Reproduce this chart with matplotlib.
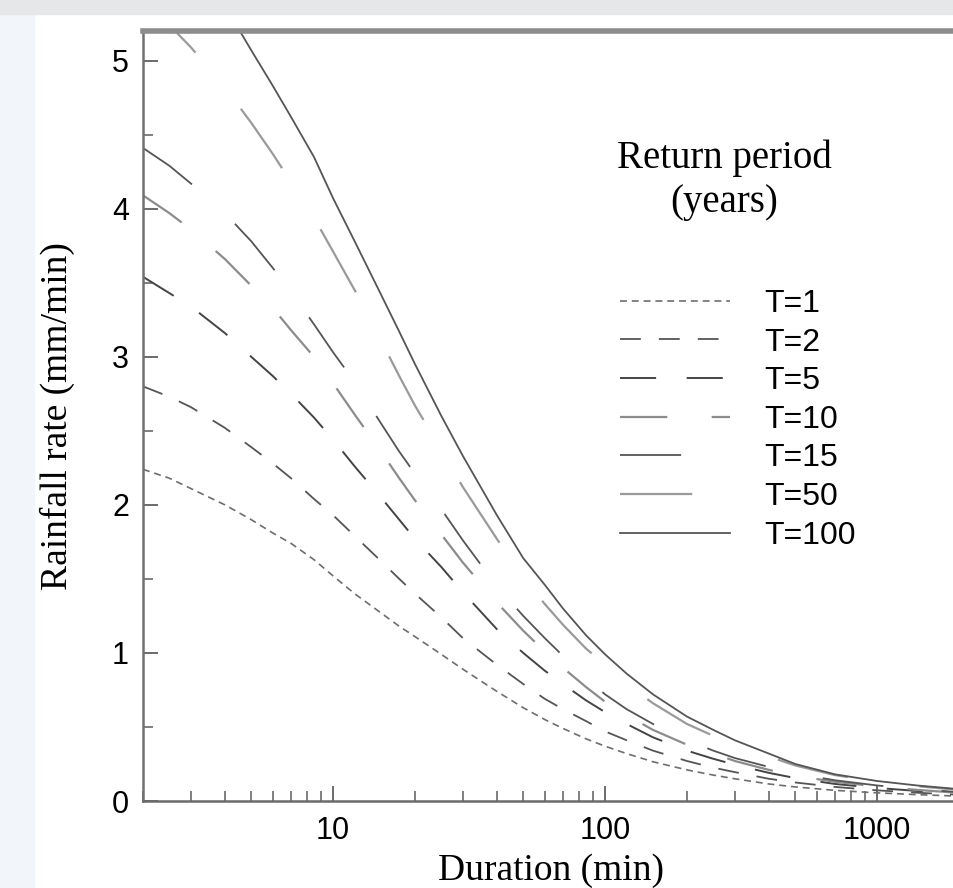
import numpy as np
import matplotlib
matplotlib.use("Agg")
import matplotlib.pyplot as plt
from matplotlib.patches import Rectangle
from matplotlib.ticker import LogLocator, MultipleLocator, NullFormatter

plt.rcParams["lines.scale_dashes"] = False
plt.rcParams["font.family"] = ["Liberation Sans", "DejaVu Sans"]

# ---------------------------------------------------------
# Data (rainfall rate in mm/min)
# ---------------------------------------------------------
duration = [2, 2.5, 3, 4, 5, 6, 7, 8.5, 10, 12, 15, 17.5, 20, 25, 30, 40, 50,
            60, 70, 85, 100, 120, 150, 200, 250, 300, 400, 500, 700, 1000, 1400, 2000]

rate_t1 = [2.24, 2.18, 2.11, 2.00, 1.90, 1.81, 1.74, 1.63, 1.52, 1.40, 1.27, 1.18, 1.11, 0.99, 0.89, 0.74,
           0.63, 0.55, 0.49, 0.42, 0.37, 0.32, 0.265, 0.21, 0.175, 0.15, 0.115, 0.095, 0.072, 0.055, 0.043, 0.033]
rate_t2 = [2.80, 2.73, 2.66, 2.52, 2.39, 2.28, 2.18, 2.04, 1.93, 1.79, 1.62, 1.50, 1.40, 1.24, 1.10, 0.92,
           0.79, 0.69, 0.62, 0.54, 0.47, 0.41, 0.34, 0.27, 0.225, 0.195, 0.15, 0.125, 0.095, 0.072, 0.056, 0.042]
rate_t5 = [3.54, 3.43, 3.34, 3.16, 3.00, 2.87, 2.75, 2.59, 2.44, 2.26, 2.05, 1.90, 1.77, 1.58, 1.41, 1.16,
           1.00, 0.88, 0.79, 0.68, 0.60, 0.52, 0.43, 0.34, 0.285, 0.245, 0.19, 0.155, 0.115, 0.088, 0.068, 0.05]
rate_t10 = [4.09, 3.97, 3.86, 3.66, 3.48, 3.33, 3.18, 3.00, 2.82, 2.61, 2.36, 2.18, 2.03, 1.80, 1.61, 1.34,
            1.15, 1.01, 0.90, 0.77, 0.67, 0.58, 0.48, 0.38, 0.32, 0.27, 0.21, 0.17, 0.13, 0.098, 0.075, 0.055]
rate_t15 = [4.41, 4.29, 4.17, 3.97, 3.78, 3.60, 3.44, 3.22, 3.03, 2.83, 2.55, 2.36, 2.21, 1.97, 1.76, 1.45,
            1.25, 1.10, 0.98, 0.83, 0.72, 0.62, 0.52, 0.41, 0.34, 0.29, 0.23, 0.185, 0.14, 0.105, 0.08, 0.06]
rate_t50 = [5.45, 5.24, 5.09, 4.82, 4.58, 4.37, 4.18, 3.94, 3.71, 3.45, 3.11, 2.87, 2.67, 2.37, 2.12, 1.77,
            1.51, 1.33, 1.19, 1.03, 0.92, 0.79, 0.66, 0.52, 0.44, 0.38, 0.30, 0.24, 0.175, 0.13, 0.10, 0.075]
rate_t100 = [6.20, 5.97, 5.75, 5.37, 5.07, 4.83, 4.62, 4.35, 4.07, 3.78, 3.42, 3.17, 2.95, 2.60, 2.33, 1.93,
             1.64, 1.46, 1.30, 1.12, 0.99, 0.86, 0.72, 0.57, 0.48, 0.41, 0.32, 0.25, 0.18, 0.135, 0.105, 0.08]

labels = ["T=1", "T=2", "T=5", "T=10", "T=15", "T=50", "T=100"]
series = [rate_t1, rate_t2, rate_t5, rate_t10, rate_t15, rate_t50, rate_t100]

# line styles (dash lengths in points)
styles = [
    dict(color="#6e6e6e", lw=1.2, dashes=(5, 3.5)),
    dict(color="#555555", lw=1.3, dashes=(15, 13)),
    dict(color="#444444", lw=1.4, dashes=(26, 22)),
    dict(color="#8c8c8c", lw=1.6, dashes=(34, 32)),
    dict(color="#555555", lw=1.3, dashes=(44, 42)),
    dict(color="#9a9a9a", lw=1.6, dashes=(52, 52)),
    dict(color="#555555", lw=1.3),
]

W, H = 954, 888
fig = plt.figure(figsize=(W / 100, H / 100), dpi=100)
fig.patch.set_facecolor("white")
# page background strips of the scanned figure
fig.patches.append(Rectangle((0, 0), 34 / W, 1, transform=fig.transFigure,
                             color="#f2f6fb", zorder=-10))
fig.patches.append(Rectangle((0, 1 - 14 / H), 1, 14 / H, transform=fig.transFigure,
                             color="#e6e7e9", zorder=-10))

ax = fig.add_axes([143 / W, 87 / H, 816 / W, 770 / H])

for vals, lab, st in zip(series, labels, styles):
    ax.plot(duration, vals, label=lab, **st)

ax.set_xscale("log")
ax.set_xlim(2, 2000)
ax.set_ylim(0, 5.2)

ax.set_xticks([10, 100, 1000])
ax.set_xticklabels(["10", "100", "1000"])
ax.xaxis.set_minor_locator(LogLocator(base=10, subs=np.arange(2, 10)))
ax.xaxis.set_minor_formatter(NullFormatter())
ax.set_yticks([0, 1, 2, 3, 4, 5])
ax.yaxis.set_minor_locator(MultipleLocator(0.5))

ax.tick_params(which="both", direction="in", color="#6a6a6a", labelcolor="black",
               top=False, right=False, labelsize=22)
ax.tick_params(which="major", length=11, width=1.4)
ax.tick_params(which="minor", length=7, width=1.2)
ax.tick_params(axis="y", pad=10)
ax.tick_params(axis="x", pad=11)

ax.spines["right"].set_visible(False)
ax.spines["top"].set_linewidth(4)
ax.spines["top"].set_color("#8c8c8c")
ax.spines["left"].set_linewidth(1.8)
ax.spines["left"].set_color("#707070")
ax.spines["bottom"].set_linewidth(1.8)
ax.spines["bottom"].set_color("#6a6a6a")

ax.set_xlabel("Duration (min)", family="Liberation Serif", fontsize=27)
ax.set_ylabel("Rainfall rate (mm/min)", family="Liberation Serif", fontsize=27)
ax.xaxis.set_label_coords(0.5, -0.068)
ax.yaxis.set_label_coords(-0.083, 0.5)

ax.text(0.712, 0.822, "Return period", transform=ax.transAxes, ha="center",
        va="baseline", family="Liberation Serif", fontsize=28)
ax.text(0.712, 0.765, "(years)", transform=ax.transAxes, ha="center",
        va="baseline", family="Liberation Serif", fontsize=28)

ax.legend(loc="upper left", bbox_to_anchor=(0.5846, 0.665), frameon=False,
          fontsize=23, handlelength=3.44, handletextpad=1.09, labelspacing=0.27,
          borderpad=0, borderaxespad=0)

fig.savefig("out.png", dpi=100)
